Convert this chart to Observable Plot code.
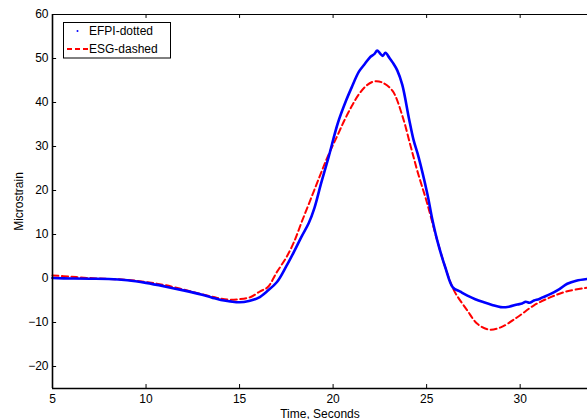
<!DOCTYPE html>
<html>
<head>
<meta charset="utf-8">
<script src="https://cdn.jsdelivr.net/npm/d3@7"></script>
<script src="https://cdn.jsdelivr.net/npm/@observablehq/plot@0.6"></script>
<style>
  html, body { margin: 0; padding: 0; background: #fff; overflow: hidden; }
  svg { display: block; }
</style>
</head>
<body>
<div id="chart"></div>
<script>
// EFPI (blue, dotted markers) — time in seconds, microstrain
const efpiTime = [5.0, 6.0, 7.0, 8.0, 9.0, 10.0, 11.0, 12.0, 13.0, 13.5, 14.0, 14.5, 15.0, 15.5, 16.0, 16.5, 17.0, 17.5, 17.9, 18.3, 18.7, 19.0, 19.35, 19.76, 20.26, 20.7, 21.0, 21.38, 21.7, 22.0, 22.2, 22.36, 22.5, 22.65, 22.8, 23.0, 23.2, 23.43, 23.7, 24.05, 24.3, 24.57, 25.04, 25.3, 25.57, 26.0, 26.4, 26.8, 27.18, 27.6, 28.06, 28.5, 28.96, 29.4, 29.85, 30.1, 30.3, 30.5, 30.74, 31.0, 31.2, 31.63, 32.1, 32.52, 33.0, 33.6];
const efpiStrain = [0.1, 0.0, -0.05, -0.1, -0.4, -1.0, -1.8, -2.7, -3.7, -4.3, -4.9, -5.2, -5.4, -5.1, -4.4, -2.8, -0.8, 2.8, 6.0, 9.4, 12.6, 16.0, 21.5, 27.6, 35.4, 40.5, 43.5, 47.0, 48.8, 50.4, 51.0, 51.8, 51.2, 50.6, 51.3, 50.2, 49.0, 47.3, 44.0, 36.5, 31.5, 27.6, 19.2, 13.5, 8.6, 2.5, -2.0, -3.0, -3.9, -4.7, -5.4, -6.0, -6.5, -6.4, -5.9, -5.7, -5.3, -5.5, -5.0, -4.7, -4.3, -3.5, -2.4, -1.2, -0.5, -0.1];

// ESG (red, dashed)
const esgTime = [5.0, 6.0, 7.0, 8.0, 9.0, 10.0, 11.0, 12.0, 13.0, 13.8, 14.4, 15.0, 15.6, 16.1, 16.5, 17.0, 17.5, 17.9, 18.3, 18.8, 19.3, 19.7, 20.2, 20.6, 21.0, 21.4, 21.8, 22.2, 22.6, 23.17, 23.7, 24.15, 24.5, 25.0, 25.57, 26.0, 26.46, 27.18, 27.71, 28.33, 28.96, 29.85, 30.74, 31.63, 32.52, 33.6];
const esgStrain = [0.7, 0.4, 0.1, -0.1, -0.3, -0.8, -1.5, -2.5, -3.6, -4.4, -4.8, -4.7, -4.2, -2.9, -2.0, 1.5, 4.8, 8.2, 12.6, 18.0, 23.4, 27.6, 32.2, 35.9, 39.2, 42.0, 43.9, 44.8, 44.6, 42.7, 37.0, 30.0, 24.5, 17.5, 8.6, 2.5, -2.7, -7.3, -10.3, -11.6, -11.1, -8.8, -6.1, -4.25, -2.9, -2.1];

const xTicks = [5, 10, 15, 20, 25, 30];
const yTicks = [-20, -10, 0, 10, 20, 30, 40, 50, 60];
const legendLabels = ["EFPI-dotted", "ESG-dashed"];

const efpi = efpiTime.map((t, i) => ({t, s: efpiStrain[i]}));
const esg = esgTime.map((t, i) => ({t, s: esgStrain[i]}));

const xDomain = [5, 33.6];
const yDomain = [-25, 60];
const font = "Arial, 'Liberation Sans', Helvetica, sans-serif";

const plot = Plot.plot({
  width: 587,
  height: 419,
  marginTop: 14,
  marginBottom: 31,
  marginLeft: 52,
  marginRight: 0,
  style: {fontFamily: font, fontSize: "12px", color: "#000", background: "#fff"},
  x: {domain: xDomain},
  y: {domain: yDomain},
  marks: [
    Plot.axisX(xTicks, {tickSize: 0, tickPadding: 6, label: "Time, Seconds", labelArrow: "none", labelAnchor: "center", labelOffset: 29, fontSize: 12}),
    Plot.axisY(yTicks, {tickSize: 0, tickPadding: 4, label: "Microstrain", labelArrow: "none", labelAnchor: "center", labelOffset: 38, fontSize: 12}),
    // inward ticks (bottom, top, left)
    Plot.ruleX(xTicks, {x: d => d, y1: -25, y2: -24.1, stroke: "#000", strokeWidth: 1}),
    Plot.ruleX(xTicks, {x: d => d, y1: 60, y2: 59.1, stroke: "#000", strokeWidth: 1}),
    Plot.ruleY(yTicks, {y: d => d, x1: 5, x2: 5.22, stroke: "#000", strokeWidth: 1}),
    Plot.line(esg, {x: "t", y: "s", stroke: "#ff0000", strokeWidth: 2, strokeDasharray: "6,3.5", curve: "catmull-rom"}),
    Plot.line(efpi, {x: "t", y: "s", stroke: "#0000ff", strokeWidth: 2.6, curve: "catmull-rom"}),
    Plot.ruleX([5], {stroke: "#000", strokeWidth: 1.6}),
    Plot.ruleY([-25], {stroke: "#000", strokeWidth: 1.6}),
    Plot.ruleY([60], {stroke: "#000", strokeWidth: 1.2})
  ]
});

document.getElementById("chart").appendChild(plot);

// legend box (MATLAB-style, inside the axes)
const svg = d3.select(plot);
const lg = svg.append("g").attr("font-family", font).attr("font-size", 12).attr("text-anchor", "start");
lg.append("rect").attr("x", 63.5).attr("y", 22.5).attr("width", 107).attr("height", 35.5)
  .attr("fill", "#fff").attr("stroke", "#000").attr("stroke-width", 1);
lg.append("circle").attr("cx", 77.5).attr("cy", 31).attr("r", 1).attr("fill", "#0000ff");
lg.append("text").attr("x", 89).attr("y", 35).attr("text-anchor", "start").text(legendLabels[0]);
lg.append("line").attr("x1", 67).attr("x2", 88).attr("y1", 49).attr("y2", 49)
  .attr("stroke", "#ff0000").attr("stroke-width", 2).attr("stroke-dasharray", "5,3");
lg.append("text").attr("x", 89).attr("y", 53).attr("text-anchor", "start").text(legendLabels[1]);
</script>
</body>
</html>
